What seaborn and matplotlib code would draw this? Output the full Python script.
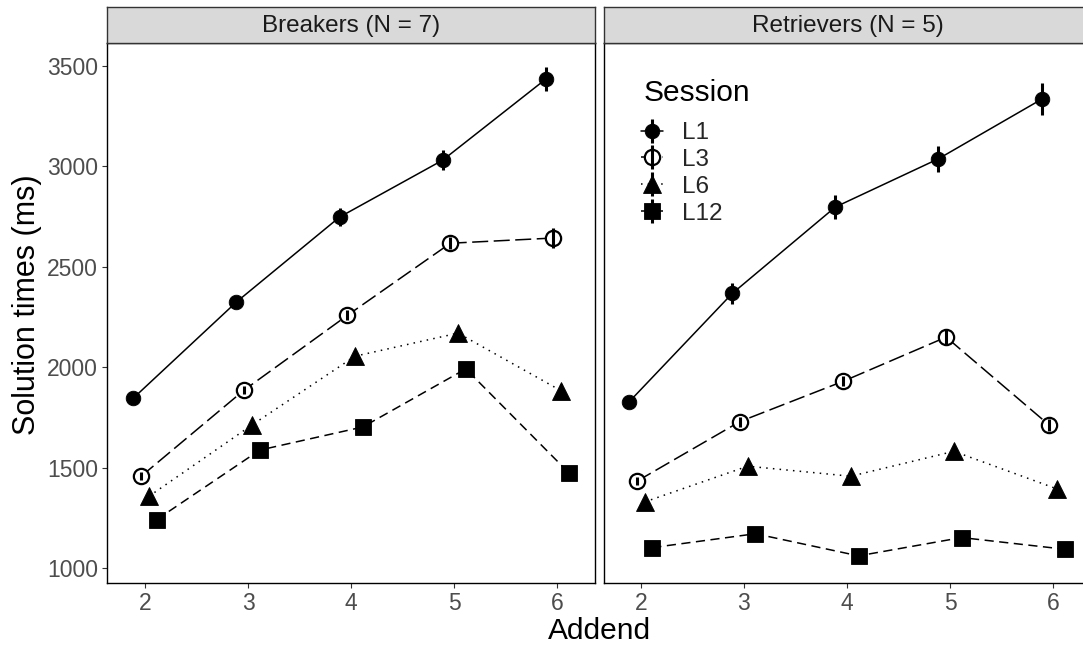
import matplotlib
matplotlib.use("Agg")
import matplotlib.pyplot as plt
from matplotlib.lines import Line2D
import seaborn as sns
import pandas as pd

# ---- data -------------------------------------------------------------
addends = [2, 3, 4, 5, 6]
sessions = ["L1", "L3", "L6", "L12"]
groups = ["Breakers (N = 7)", "Retrievers (N = 5)"]

breakers_l1 = [1847, 2325, 2747, 3030, 3433]
breakers_l3 = [1458, 1887, 2258, 2617, 2643]
breakers_l6 = [1358, 1713, 2055, 2170, 1883]
breakers_l12 = [1242, 1588, 1703, 1992, 1475]

retrievers_l1 = [1828, 2367, 2797, 3037, 3333]
retrievers_l3 = [1433, 1730, 1930, 2150, 1712]
retrievers_l6 = [1330, 1508, 1458, 1582, 1395]
retrievers_l12 = [1103, 1172, 1062, 1153, 1095]

# standard errors
breakers_se_l1 = [20, 30, 45, 50, 60]
breakers_se_l3 = [20, 20, 25, 30, 50]
breakers_se_l6 = [15, 20, 20, 20, 35]
breakers_se_l12 = [15, 20, 15, 25, 20]

retrievers_se_l1 = [25, 50, 60, 65, 80]
retrievers_se_l3 = [20, 25, 25, 40, 30]
retrievers_se_l6 = [15, 25, 15, 25, 25]
retrievers_se_l12 = [15, 20, 15, 15, 15]

means = {
    groups[0]: [breakers_l1, breakers_l3, breakers_l6, breakers_l12],
    groups[1]: [retrievers_l1, retrievers_l3, retrievers_l6, retrievers_l12],
}
ses = {
    groups[0]: [breakers_se_l1, breakers_se_l3, breakers_se_l6, breakers_se_l12],
    groups[1]: [retrievers_se_l1, retrievers_se_l3, retrievers_se_l6, retrievers_se_l12],
}

rows = []
for g in groups:
    for s, m_list, se_list in zip(sessions, means[g], ses[g]):
        for a, m, e in zip(addends, m_list, se_list):
            rows.append({"Group": g, "Session": s, "Addend": a, "Time": m, "SE": e})
df = pd.DataFrame(rows)

# dodge the sessions around each addend
dodge = {"L1": -0.1125, "L3": -0.0375, "L6": 0.0375, "L12": 0.1125}
df["pos"] = df["Addend"] + df["Session"].map(dodge)

# ---- styling ------------------------------------------------------------
sns.set_theme(style="white")
plt.rcParams["font.family"] = ["Liberation Sans", "DejaVu Sans"]

session_style = {
    "L1": dict(marker="o", markersize=10.5, markerfacecolor="black",
               linestyle="-"),
    "L3": dict(marker="o", markersize=11.0, markerfacecolor="white",
               markeredgewidth=1.6, linestyle=(0, (10.5, 3.6))),
    "L6": dict(marker="^", markersize=12.3, markerfacecolor="black",
               linestyle=(0, (1.0, 3.4))),
    "L12": dict(marker="s", markersize=11.0, markerfacecolor="black",
                linestyle=(0, (6.0, 3.6))),
}

fig = plt.figure(figsize=(10.83, 6.45), dpi=100)
W, H = 1083.0, 645.0

panel_top, panel_bottom = 43.0, 583.0
panels = [(107.0, (1.631, 6.366)), (604.0, (1.644, 6.377))]
panel_w = 488.0

for g, (x0, xlim) in zip(groups, panels):
    ax = fig.add_axes([x0 / W, (H - panel_bottom) / H, panel_w / W,
                       (panel_bottom - panel_top) / H])
    sub = df[df["Group"] == g]
    for s in sessions:
        d = sub[sub["Session"] == s]
        st = dict(session_style[s])
        ls = st.pop("linestyle")
        st.setdefault("markeredgewidth", 0.6)
        sns.lineplot(data=d, x="pos", y="Time", ax=ax, color="black",
                     estimator=None, sort=False, legend=False,
                     linewidth=1.1, markeredgecolor="black", **st)
        ax.lines[-1].set_linestyle(ls)
        ax.errorbar(d["pos"], d["Time"], yerr=d["SE"], fmt="none",
                    ecolor="black", elinewidth=2.2, capsize=0, zorder=3)
    ax.set_xlim(*xlim)
    ax.set_ylim(927, 3613)
    ax.set_xticks(addends)
    ax.set_yticks([1000, 1500, 2000, 2500, 3000, 3500])
    ax.set_xlabel("")
    ax.set_ylabel("")
    ax.tick_params(axis="both", which="major", length=3.5, width=0.8,
                   color="#333333", labelcolor="#4D4D4D", labelsize=16.5,
                   direction="out", bottom=True, left=True, pad=3)
    if x0 > 200:
        ax.tick_params(axis="y", left=False, labelleft=False)
    for sp in ax.spines.values():
        sp.set_color("black")
        sp.set_linewidth(1.0)

    # facet strip
    sax = fig.add_axes([x0 / W, (H - panel_top) / H, panel_w / W, 36.0 / H])
    sax.set_facecolor("#D9D9D9")
    sax.set_xticks([])
    sax.set_yticks([])
    for sp in sax.spines.values():
        sp.set_color("#333333")
        sp.set_linewidth(1.0)
    sax.text(0.5, 0.47, g, transform=sax.transAxes, ha="center",
             va="center", fontsize=17.5, color="#1A1A1A")

    if x0 > 200:
        handles = []
        for s in sessions:
            st = dict(session_style[s])
            ls = st.pop("linestyle")
            st.setdefault("markeredgewidth", 0.6)
            h1 = Line2D([], [], color="black", linestyle=ls, linewidth=1.1,
                        markeredgecolor="black", **st)
            h2 = Line2D([], [], color="black", linestyle="none", marker="|",
                        markersize=17, markeredgewidth=2.2)
            handles.append((h1, h2))
        fig.text(644 / W, (H - 93) / H, "Session", ha="left", va="center",
                 fontsize=21.5, color="black")
        ax.legend(handles, sessions, loc="upper left",
                  bbox_to_anchor=(641 / W, (H - 122) / H),
                  bbox_transform=fig.transFigure, frameon=False,
                  fontsize=17.5, handlelength=0.9, handletextpad=0.8,
                  labelspacing=0.2, borderpad=0, borderaxespad=0,
                  numpoints=1)

fig.text(27 / W, (H - 305) / H, "Solution times (ms)", rotation=90,
         ha="center", va="center", fontsize=22, color="black")
fig.text(599 / W, (H - 631) / H, "Addend", ha="center", va="center",
         fontsize=21.5, color="black")

fig.savefig("out.png", dpi=100)
